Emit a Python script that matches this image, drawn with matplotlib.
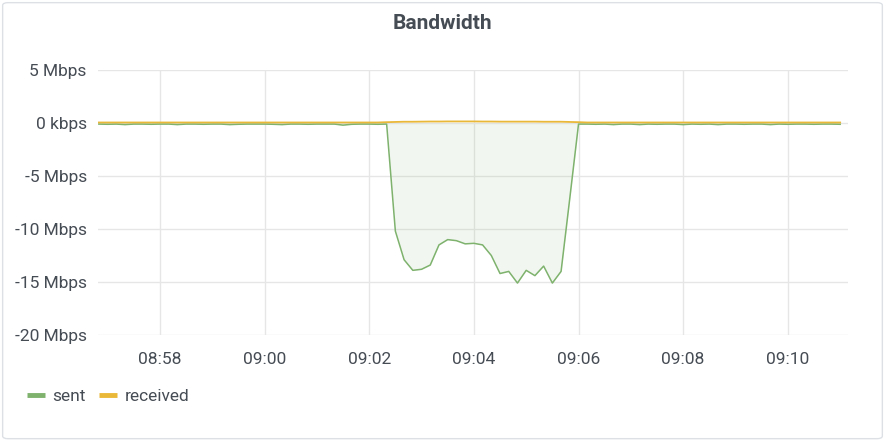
# Bandwidth panel (sent / received) in a Grafana-like style
import matplotlib
matplotlib.use("Agg")
import matplotlib.pyplot as plt
import matplotlib.dates as mdates
from matplotlib.lines import Line2D
from matplotlib.patches import FancyBboxPatch
import pandas as pd

plt.rcParams['font.family'] = ['Roboto', 'DejaVu Sans']

# samples every 10 s from 08:56:50 to 09:11:00
times = pd.date_range("2024-01-01 08:56:50", periods=86, freq="10s")

# Mbps, sent is drawn negative
sent = [-0.10, -0.12, -0.10, -0.15, -0.10, -0.10, -0.12, -0.10, -0.10, -0.15,
        -0.10, -0.10, -0.12, -0.10, -0.10, -0.15, -0.12, -0.10, -0.10, -0.10,
        -0.12, -0.15, -0.10, -0.10, -0.12, -0.10, -0.10, -0.10, -0.20, -0.12,
        -0.10, -0.10, -0.12, -0.10,
        -10.2, -12.9, -13.9, -13.8, -13.4, -11.5, -11.0, -11.1, -11.4, -11.35,
        -11.5, -12.5, -14.2, -14.0, -15.1, -13.9, -14.4, -13.5, -15.1, -14.0,
        -7.1, -0.10,
        -0.10, -0.12, -0.10, -0.15, -0.10, -0.10, -0.15, -0.10, -0.12, -0.10,
        -0.10, -0.15, -0.10, -0.12, -0.10, -0.15, -0.10, -0.10, -0.12, -0.10,
        -0.10, -0.15, -0.10, -0.12, -0.10, -0.10, -0.12, -0.10, -0.10, -0.12]
received = [0.05] * 33 + [0.08, 0.10, 0.12, 0.12, 0.13, 0.14, 0.14, 0.15, 0.15,
                          0.15, 0.15, 0.14, 0.14, 0.13, 0.13, 0.13, 0.13, 0.13,
                          0.12, 0.12, 0.12, 0.10, 0.08] + [0.05] * 30

ytick_vals = [5, 0, -5, -10, -15, -20]
ytick_labels = ["5 Mbps", "0 kbps", "-5 Mbps", "-10 Mbps", "-15 Mbps", "-20 Mbps"]

green = "#7eb26d"
yellow = "#eab839"
text_col = "#464c54"

fig = plt.figure(figsize=(8.85, 4.44), dpi=100)

# panel frame
frame = FancyBboxPatch((0.003, 0.012), 0.994, 0.982, boxstyle="round,pad=0,rounding_size=0.006",
                       transform=fig.transFigure, facecolor="white", edgecolor="#dde1e6", lw=1,
                       zorder=-10)
fig.patches.append(frame)

ax = fig.add_axes([0.1107, 0.2455, 0.8475, 0.5968])
ax.set_facecolor("none")

ax.fill_between(times, sent, 0, color=green, alpha=0.1, lw=0)
ax.plot(times, sent, color=green, lw=1.1)
ax.plot(times, received, color=yellow, lw=1.3)

ax.set_xlim(pd.Timestamp("2024-01-01 08:56:49"), pd.Timestamp("2024-01-01 09:11:09"))
ax.set_ylim(-20, 5)
ax.set_yticks(ytick_vals)
ax.set_yticklabels(ytick_labels)
ax.xaxis.set_major_locator(mdates.MinuteLocator(byminute=range(0, 60, 2)))
ax.xaxis.set_major_formatter(mdates.DateFormatter("%H:%M"))

ax.grid(True, color="#e6e6e6", lw=1)
ax.set_axisbelow(True)
for s in ax.spines.values():
    s.set_visible(False)
ax.tick_params(length=0, labelsize=12.5, colors=text_col)
ax.tick_params(axis="y", pad=8)
ax.tick_params(axis="x", pad=12)

fig.text(0.5, 0.947, "Bandwidth", ha="center", va="center", fontsize=15,
         fontweight="bold", color=text_col)

handles = [Line2D([], [], color=green, lw=3.5, solid_capstyle="butt"),
           Line2D([], [], color=yellow, lw=3.5, solid_capstyle="butt")]
fig.legend(handles, ["sent", "received"], loc="center left", bbox_to_anchor=(0.0125, 0.108),
           frameon=False, ncol=2, handlelength=1.05, handletextpad=0.4, columnspacing=0.8,
           fontsize=12.5, labelcolor=text_col)

plt.savefig("out.png")
